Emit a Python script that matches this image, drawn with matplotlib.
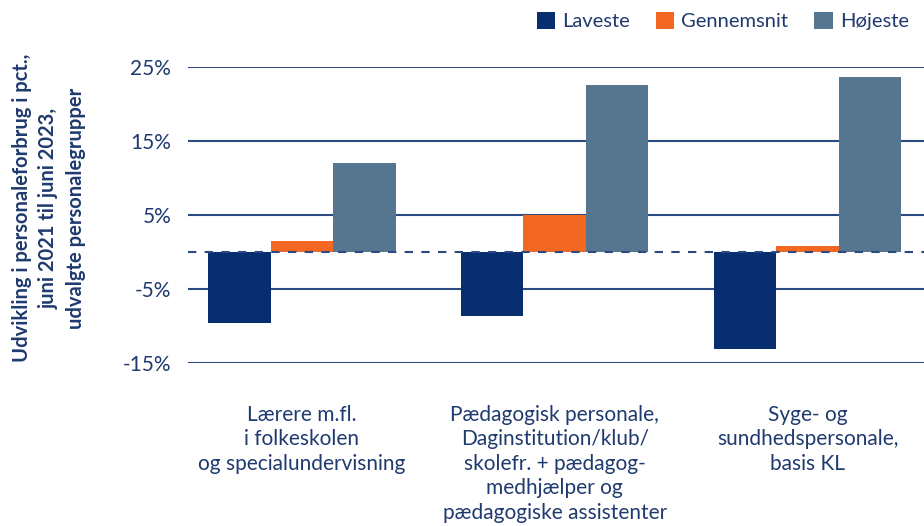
import matplotlib
matplotlib.use("Agg")
import matplotlib.pyplot as plt
import numpy as np
from matplotlib.patches import Patch

categories = ["Lærere m.fl.\ni folkeskolen\nog specialundervisning",
              "Pædagogisk personale,\nDaginstitution/klub/\nskolefr. + pædagog-\nmedhjælper og\npædagogiske assistenter",
              "Syge- og\nsundhedspersonale,\nbasis KL"]
series_names = ["Laveste", "Gennemsnit", "Højeste"]
laveste = [-9.6, -8.6, -13.1]
gennemsnit = [1.5, 5.0, 0.8]
hojeste = [12.0, 22.6, 23.6]
yticks = [25, 15, 5, -5, -15]
ytick_labels = ["25%", "15%", "5%", "-5%", "-15%"]
ylabel = "Udvikling i personaleforbrug i pct.,\njuni 2021 til juni 2023,\nudvalgte personalegrupper"

colors = ["#082e6f", "#f26822", "#56758e"]
txt = "#1f3a6e"
grid = "#2b4a82"

plt.rcParams['font.family'] = ['Lato', 'DejaVu Sans']

fig = plt.figure(figsize=(9.24, 5.26), dpi=100)
ax = fig.add_axes([188/924, 1-363/526, 1-188/924, (363-67)/526])

x = np.arange(len(categories))
w = 0.247
for i, (vals, c) in enumerate(zip([laveste, gennemsnit, hojeste], colors)):
    ax.bar(x + (i-1)*w, vals, width=w, color=c, zorder=3)

for t in yticks:
    ax.axhline(t, color=grid, lw=1.5, zorder=1)
ax.axhline(0, color=grid, lw=1.5, ls=(0, (4, 4)), zorder=4)

ax.set_xlim(-0.45, 2.46)
ax.set_ylim(-15, 25)
ax.set_yticks(yticks)
ax.set_yticklabels(ytick_labels, fontsize=15, color=txt)
ax.set_xticks(x)
ax.set_xticklabels(categories, fontsize=15, color=txt, linespacing=1.28, va='top')
ax.tick_params(axis='y', length=0, pad=12)
ax.tick_params(axis='x', length=0, pad=30)
for s in ax.spines.values():
    s.set_visible(False)

fig.text(49/924, 1-208/526, ylabel, rotation=90, ha='center', va='center',
         fontsize=14.5, color=txt, fontweight='bold', linespacing=1.45)

handles = [Patch(facecolor=c, label=n) for c, n in zip(colors, series_names)]
fig.legend(handles=handles, loc='upper right', bbox_to_anchor=(1.003, 1.012), ncol=3,
           frameon=False, fontsize=14.5, labelcolor=txt, handlelength=0.9, handleheight=0.9,
           handletextpad=0.35, columnspacing=1.3)

fig.savefig("out.png", dpi=100)
